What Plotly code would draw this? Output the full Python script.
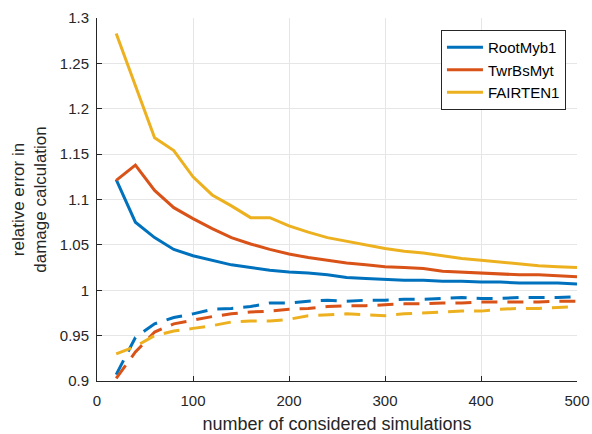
import plotly.graph_objects as go

x = [20, 40, 60, 80, 100, 120, 140, 160, 180, 200, 220, 240, 260, 280, 300,
     320, 340, 360, 380, 400, 420, 440, 460, 480, 500]

root_upper = [1.122, 1.075, 1.058, 1.045, 1.038, 1.033, 1.028, 1.025, 1.022, 1.020,
              1.019, 1.017, 1.014, 1.013, 1.012, 1.011, 1.011, 1.010, 1.010, 1.009,
              1.009, 1.008, 1.008, 1.008, 1.007]
twr_upper = [1.121, 1.138, 1.110, 1.091, 1.079, 1.068, 1.058, 1.051, 1.045, 1.040,
             1.036, 1.033, 1.030, 1.028, 1.026, 1.025, 1.024, 1.021, 1.020, 1.019,
             1.018, 1.017, 1.017, 1.016, 1.015]
fair_upper = [1.283, 1.225, 1.168, 1.154, 1.125, 1.105, 1.093, 1.080, 1.080, 1.071,
              1.064, 1.058, 1.054, 1.050, 1.046, 1.043, 1.041, 1.038, 1.035, 1.033,
              1.031, 1.029, 1.027, 1.026, 1.025]

root_lower = [0.907, 0.948, 0.963, 0.970, 0.974, 0.979, 0.980, 0.982, 0.986, 0.986,
              0.988, 0.989, 0.988, 0.989, 0.989, 0.990, 0.990, 0.991, 0.992, 0.991,
              0.991, 0.992, 0.992, 0.992, 0.993]
twr_lower = [0.903, 0.932, 0.954, 0.963, 0.967, 0.971, 0.974, 0.976, 0.977, 0.979,
             0.980, 0.982, 0.983, 0.983, 0.984, 0.985, 0.985, 0.986, 0.986, 0.987,
             0.987, 0.987, 0.987, 0.988, 0.988]
fair_lower = [0.930, 0.938, 0.950, 0.955, 0.958, 0.961, 0.965, 0.966, 0.966, 0.968,
              0.972, 0.973, 0.974, 0.973, 0.972, 0.974, 0.975, 0.976, 0.977, 0.977,
              0.979, 0.980, 0.980, 0.981, 0.982]

names = ["RootMyb1", "TwrBsMyt", "FAIRTEN1"]
colors = ["#0072BD", "#D95319", "#EDB120"]
uppers = [root_upper, twr_upper, fair_upper]
lowers = [root_lower, twr_lower, fair_lower]

fig = go.Figure()
for n, c, u in zip(names, colors, uppers):
    fig.add_trace(go.Scatter(x=x, y=u, mode="lines", name=n,
                             line=dict(color=c, width=3)))
for n, c, l in zip(names, colors, lowers):
    fig.add_trace(go.Scatter(x=x, y=l, mode="lines", name=n, showlegend=False,
                             line=dict(color=c, width=3, dash="16px,10px")))

fam = "Liberation Sans, Arial"
fig.update_layout(
    width=592, height=434,
    margin=dict(l=97, r=15, t=18, b=53),
    plot_bgcolor="white", paper_bgcolor="white",
    font=dict(family=fam, size=15, color="#262626"),
    legend=dict(x=0.977, y=0.967, xanchor="right", yanchor="top",
                bgcolor="white", bordercolor="#262626", borderwidth=1,
                font=dict(family=fam, size=15, color="#000000"),
                tracegroupgap=0, itemwidth=36),
    xaxis=dict(range=[0, 500], tickvals=[0, 100, 200, 300, 400, 500],
               showgrid=True, gridcolor="#E6E6E6", gridwidth=1,
               showline=True, linecolor="#262626", linewidth=1,
               ticks="inside", ticklen=5, tickcolor="#262626",
               ticklabelstandoff=6, automargin=False,
               zeroline=False,
               title=dict(text="number of considered simulations", standoff=11,
                          font=dict(size=18))),
    yaxis=dict(range=[0.9, 1.3],
               tickvals=[0.9, 0.95, 1.0, 1.05, 1.1, 1.15, 1.2, 1.25, 1.3],
               ticktext=["0.9", "0.95", "1", "1.05", "1.1", "1.15", "1.2", "1.25", "1.3"],
               showgrid=True, gridcolor="#E6E6E6", gridwidth=1,
               showline=True, linecolor="#262626", linewidth=1,
               ticks="inside", ticklen=5, tickcolor="#262626",
               ticklabelstandoff=4, automargin=False,
               zeroline=False,
               title=dict(text="relative error in<br>damage calculation", standoff=8,
                          font=dict(size=17))),
)

fig.write_html("out.html")
